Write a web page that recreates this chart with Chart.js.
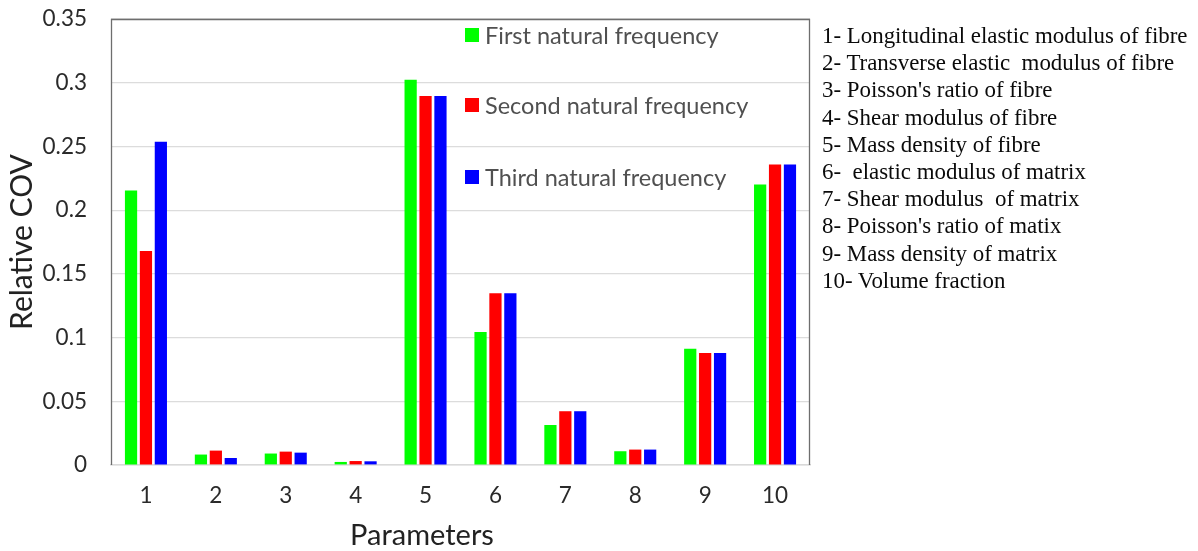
<!DOCTYPE html>
<html>
<head>
<meta charset="utf-8">
<script src="https://cdn.jsdelivr.net/npm/chart.js@4.4.1/dist/chart.umd.min.js"></script>
<style>
  html, body { margin: 0; padding: 0; background: #fff; }
  #wrap { position: relative; width: 1198px; height: 551px; }
  #c { position: absolute; left: 0; top: 0; }
  #params {
    position: absolute; left: 822px; top: 22px;
    font-family: "Liberation Serif", "Times New Roman", serif;
    font-size: 22.9px; line-height: 27.2px; color: #0a0a0a;
    white-space: nowrap;
  }
</style>
</head>
<body>
<div id="wrap">
  <canvas id="c" width="1198" height="551"></canvas>
  <div id="params"></div>
</div>
<script>
// Parameter indices on the x axis
const categories = ['1', '2', '3', '4', '5', '6', '7', '8', '9', '10'];

// Relative coefficient of variation for each natural frequency
const firstFreq  = [0.2154, 0.0082, 0.0090, 0.0024, 0.3024, 0.1043, 0.0314, 0.0108, 0.0912, 0.2201];
const secondFreq = [0.1680, 0.0113, 0.0105, 0.0031, 0.2896, 0.1347, 0.0422, 0.0121, 0.0878, 0.2358];
const thirdFreq  = [0.2537, 0.0055, 0.0097, 0.0029, 0.2896, 0.1347, 0.0422, 0.0121, 0.0878, 0.2358];

const seriesNames = ['First natural frequency', 'Second natural frequency', 'Third natural frequency'];

// Key to the parameter numbers
const paramNames = [
  '1- Longitudinal elastic modulus of fibre',
  '2- Transverse elastic\u00a0 modulus of fibre',
  "3- Poisson's ratio of fibre",
  '4- Shear modulus of fibre',
  '5- Mass density of fibre',
  '6-\u00a0 elastic modulus of matrix',
  '7- Shear modulus\u00a0 of matrix',
  "8- Poisson's ratio of matix",
  '9- Mass density of matrix',
  '10- Volume fraction'
];

const yTicks = [0, 0.05, 0.1, 0.15, 0.2, 0.25, 0.3, 0.35];

document.getElementById('params').innerHTML =
  paramNames.map(t => '<div>' + t + '</div>').join('');

const FONT = 'Lato, "Open Sans", sans-serif';

// Legend drawn inside the plot area, stacked with wide spacing
const innerLegend = {
  id: 'innerLegend',
  afterDraw(chart) {
    const ctx = chart.ctx;
    const rowsY = [35, 105, 177];
    ctx.save();
    chart.data.datasets.forEach((ds, i) => {
      const y = rowsY[i];
      ctx.fillStyle = ds.backgroundColor;
      ctx.fillRect(465, y - 7, 14, 14);
      ctx.fillStyle = '#505050';
      ctx.font = '23.5px ' + FONT;
      ctx.textBaseline = 'middle';
      ctx.textAlign = 'left';
      ctx.fillText(ds.label, 485, y + 1);
    });
    // x axis title
    ctx.fillStyle = '#222';
    ctx.font = '29px ' + FONT;
    ctx.textAlign = 'center';
    ctx.textBaseline = 'middle';
    ctx.fillText('Parameters', 422, 536);
    ctx.restore();
  }
};

// Plot-area frame: dark left, top and right edges
const plotFrame = {
  id: 'plotFrame',
  afterDatasetsDraw(chart) {
    const a = chart.chartArea;
    const ctx = chart.ctx;
    ctx.save();
    ctx.strokeStyle = '#6e6e6e';
    ctx.lineWidth = 1.3;
    ctx.beginPath();
    ctx.moveTo(a.left + 0.5, a.bottom);
    ctx.lineTo(a.left + 0.5, a.top + 0.5);
    ctx.lineTo(a.right - 0.5, a.top + 0.5);
    ctx.lineTo(a.right - 0.5, a.bottom);
    ctx.stroke();
    ctx.restore();
  }
};

new Chart(document.getElementById('c'), {
  type: 'bar',
  data: {
    labels: categories,
    datasets: [
      { label: seriesNames[0], data: firstFreq,  backgroundColor: '#00ff00' },
      { label: seriesNames[1], data: secondFreq, backgroundColor: '#ff0000' },
      { label: seriesNames[2], data: thirdFreq,  backgroundColor: '#0000ff' }
    ]
  },
  options: {
    responsive: false,
    animation: false,
    devicePixelRatio: 1,
    categoryPercentage: 0.64,
    barPercentage: 0.82,
    layout: { padding: { top: 19, right: 388, left: 0, bottom: 0 } },
    plugins: {
      legend: { display: false },
      tooltip: { enabled: false }
    },
    scales: {
      x: {
        grid: { display: false, drawTicks: false },
        border: { display: true, color: '#d9d9d9', width: 1.5 },
        ticks: { color: '#2a2a2a', font: { family: FONT, size: 22.5 }, padding: 17, maxRotation: 0 },
        afterFit(scale) {
          scale.height = 86;
          scale.paddingLeft = 0;
          scale.paddingRight = 0;
        }
      },
      y: {
        min: 0,
        max: 0.35,
        afterBuildTicks(scale) { scale.ticks = yTicks.map(v => ({ value: v })); },
        grid: { color: '#dcdcdc', lineWidth: 1.2, drawTicks: false },
        border: { display: false },
        ticks: {
          color: '#2a2a2a',
          font: { family: FONT, size: 22.5 },
          padding: 24,
          callback: v => String(Math.round(v * 100) / 100)
        },
        title: {
          display: true,
          text: 'Relative COV',
          color: '#222',
          font: { family: FONT, size: 30 },
          padding: { top: 4, bottom: 0 }
        },
        afterFit(scale) {
          scale.width = 111;
          scale.paddingTop = 0;
          scale.paddingBottom = 0;
        }
      }
    }
  },
  plugins: [plotFrame, innerLegend]
});
</script>
</body>
</html>
